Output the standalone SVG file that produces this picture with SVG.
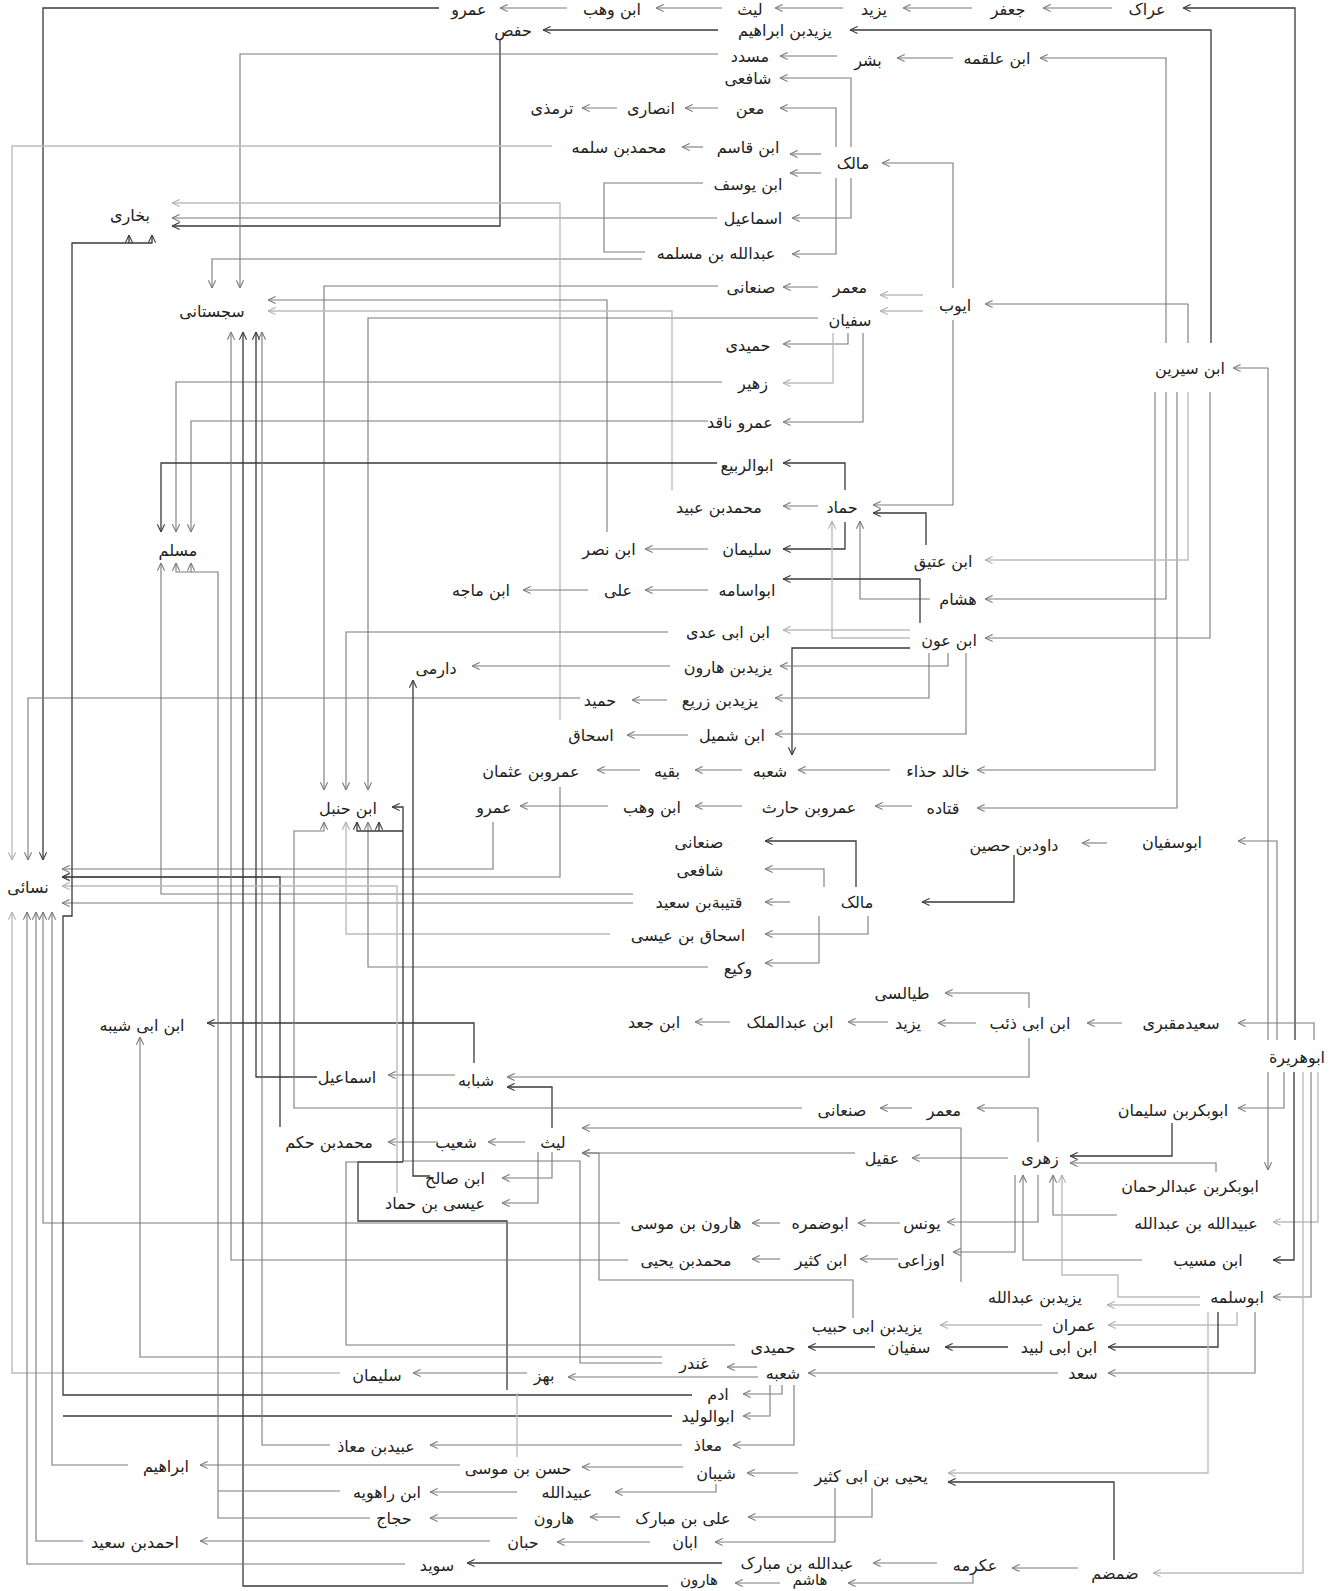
<svg xmlns="http://www.w3.org/2000/svg" width="1340" height="1591" viewBox="0 0 1340 1591">
<style>
.t{font-family:"DejaVu Sans",sans-serif;font-size:16px;fill:#222;text-anchor:middle;dominant-baseline:central}
.s{font-size:15px}
.d{fill:none;stroke:#3a3a3a;stroke-width:1.3}
.m{fill:none;stroke:#7a7a7a;stroke-width:1.1}
.l{fill:none;stroke:#bdbdbd;stroke-width:1.4}
.d.a{marker-end:url(#ad)}
.m.a{marker-end:url(#am)}
.l.a{marker-end:url(#al)}
</style>
<defs>
<marker id="ad" viewBox="0 0 10 10" refX="9.5" refY="5" markerWidth="9" markerHeight="9" orient="auto" markerUnits="userSpaceOnUse"><path d="M1,1 L9.5,5 L1,9" fill="none" stroke="#3a3a3a" stroke-width="1.2"/></marker>
<marker id="am" viewBox="0 0 10 10" refX="9.5" refY="5" markerWidth="9" markerHeight="9" orient="auto" markerUnits="userSpaceOnUse"><path d="M1,1 L9.5,5 L1,9" fill="none" stroke="#7a7a7a" stroke-width="1.2"/></marker>
<marker id="al" viewBox="0 0 10 10" refX="9.5" refY="5" markerWidth="9" markerHeight="9" orient="auto" markerUnits="userSpaceOnUse"><path d="M1,1 L9.5,5 L1,9" fill="none" stroke="#b0b0b0" stroke-width="1.2"/></marker>
</defs>
<rect width="1340" height="1591" fill="#fff"/>
<g id="connectors">
<path class="d a" d="M1295,1040 V8 H1183"/>
<path class="m a" d="M1112,8 H1043"/>
<path class="m a" d="M972,8 H903"/>
<path class="m a" d="M843,8 H775"/>
<path class="m a" d="M722,8 H656"/>
<path class="m a" d="M567,8 H500"/>
<path class="d a" d="M439,8 H43 V860"/>
<path class="d a" d="M1211,343 V30 H850"/>
<path class="d a" d="M718,30 H543"/>
<path class="d a" d="M500,40 V226 H172"/>
<path class="m a" d="M1166,343 V58 H1040"/>
<path class="m a" d="M953,58 H897"/>
<path class="m a" d="M837,56 H780"/>
<path class="m a" d="M718,54 H240 V288"/>
<path class="m a" d="M851,147 V78 H780"/>
<path class="m a" d="M836,147 V108 H780"/>
<path class="m a" d="M718,108 H685"/>
<path class="m a" d="M617,108 H582"/>
<path class="m a" d="M703,147 H682"/>
<path class="l a" d="M552,146 H12 V860"/>
<path class="m a" d="M821,154 H790"/>
<path class="m a" d="M821,173 H790"/>
<path class="m a" d="M953,288 V163 H882"/>
<path class="m a" d="M851,178 V218 H792"/>
<path class="m a" d="M836,178 V254 H792"/>
<path class="m a" d="M717,218 H172"/>
<path class="m" d="M703,183 H604 V252 H645"/>
<path class="m a" d="M642,259 H212 V288"/>
<path class="l a" d="M560,720 V203 H172"/>
<path class="l a" d="M923,295 H880"/>
<path class="l a" d="M923,311 H880"/>
<path class="m a" d="M818,287 H783"/>
<path class="m a" d="M718,286 H324 V790"/>
<path class="m a" d="M818,318 H368 V790"/>
<path class="m a" d="M607,532 V300 H268"/>
<path class="l a" d="M672,490 V311 H268"/>
<path class="m a" d="M848,333 V344 H783"/>
<path class="l a" d="M833,333 V383 H783"/>
<path class="m a" d="M863,333 V422 H783"/>
<path class="m a" d="M722,382 H176 V532"/>
<path class="m a" d="M708,421 H191 V532"/>
<path class="d a" d="M717,463 H161 V532"/>
<path class="d a" d="M845,490 V463 H783"/>
<path class="m a" d="M818,506 H783"/>
<path class="d a" d="M845,522 V549 H783"/>
<path class="m a" d="M953,320 V505 H873"/>
<path class="d a" d="M926,545 V513 H873"/>
<path class="m a" d="M930,599 H860 V521"/>
<path class="d a" d="M920,623 V579 H783"/>
<path class="l a" d="M910,630 H783"/>
<path class="l a" d="M910,638 H832 V521"/>
<path class="d a" d="M910,648 H792 V755"/>
<path class="m a" d="M948,653 V666 H780"/>
<path class="m a" d="M929,653 V698 H775"/>
<path class="m a" d="M966,653 V734 H775"/>
<path class="m a" d="M1188,343 V304 H985"/>
<path class="m a" d="M1155,392 V770 H977"/>
<path class="m a" d="M1166,392 V599 H985"/>
<path class="m a" d="M1177,392 V808 H977"/>
<path class="l a" d="M1188,392 V560 H985"/>
<path class="m a" d="M1210,392 V638 H985"/>
<path class="m a" d="M1268,1040 V368 H1233"/>
<path class="m a" d="M890,770 H798"/>
<path class="m a" d="M742,770 H695"/>
<path class="m a" d="M640,770 H597"/>
<path class="m a" d="M560,787 V877 H62"/>
<path class="m a" d="M688,735 H627"/>
<path class="m a" d="M667,700 H632"/>
<path class="m a" d="M580,698 H28 V860"/>
<path class="m a" d="M670,666 H472"/>
<path class="m a" d="M668,632 H346 V790"/>
<path class="m a" d="M708,590 H645"/>
<path class="m a" d="M588,590 H523"/>
<path class="m a" d="M708,549 H645"/>
<path class="m a" d="M742,806 H695"/>
<path class="m a" d="M912,806 H875"/>
<path class="m a" d="M608,806 H520"/>
<path class="m a" d="M493,822 V869 H62"/>
<path class="m a" d="M633,894 H161 V563"/>
<path class="m a" d="M633,903 H62"/>
<path class="l a" d="M610,934 H346 V822"/>
<path class="m a" d="M708,967 H368 V822"/>
<path class="m a" d="M1107,843 H1082"/>
<path class="d a" d="M1014,855 V902 H922"/>
<path class="d a" d="M856,887 V841 H765"/>
<path class="m a" d="M824,887 V869 H765"/>
<path class="m a" d="M790,902 H765"/>
<path class="m a" d="M868,916 V934 H765"/>
<path class="m a" d="M819,916 V963 H765"/>
<path class="m a" d="M1277,1040 V841 H1238"/>
<path class="m a" d="M1314,1040 V1023 H1238"/>
<path class="m a" d="M1122,1023 H1087"/>
<path class="m a" d="M976,1023 H938"/>
<path class="m a" d="M888,1022 H848"/>
<path class="m a" d="M730,1022 H695"/>
<path class="m a" d="M1029,1008 V993 H945"/>
<path class="m a" d="M1029,1038 V1077 H507"/>
<path class="d a" d="M552,1128 V1087 H507"/>
<path class="d a" d="M474,1063 V1023 H207"/>
<path class="m a" d="M455,1075 H388"/>
<path class="d a" d="M317,1077 H256 V332"/>
<path class="m a" d="M1284,1072 V1108 H1238"/>
<path class="m a" d="M1268,1072 V1170"/>
<path class="d a" d="M1172,1123 V1156 H1070"/>
<path class="m a" d="M1216,1172 V1163 H1070"/>
<path class="m a" d="M1038,1142 V1108 H977"/>
<path class="m a" d="M912,1108 H880"/>
<path class="m a" d="M802,1108 H294 V831 H324 V822"/>
<path class="m a" d="M1008,1158 H912"/>
<path class="m a" d="M855,1153 H582"/>
<path class="m a" d="M961,1282 V1128 H582"/>
<path class="m a" d="M525,1142 H488"/>
<path class="m a" d="M438,1142 H388"/>
<path class="d a" d="M280,1127 V877 H62"/>
<path class="m a" d="M552,1152 V1178 H502"/>
<path class="m a" d="M538,1152 V1203 H502"/>
<path class="l a" d="M397,1193 V886 H62"/>
<path class="d a" d="M403,1162 V807 H392"/>
<path class="d a" d="M403,831 H357 V822"/>
<path class="d a" d="M379,831 V822"/>
<path class="d" d="M507,1390 V1221 H358 V1162 H403"/>
<path class="m" d="M662,1363 H580 V1161 H403"/>
<path class="m" d="M735,1345 H346 V1162 H358"/>
<path class="d a" d="M430,1176 H413 V680"/>
<path class="m a" d="M853,1318 V1280 H599 V1153 H582"/>
<path class="m a" d="M1038,1175 V1222 H947"/>
<path class="m a" d="M1015,1175 V1252 H953"/>
<path class="m a" d="M1142,1260 H1023 V1175"/>
<path class="m a" d="M1117,1215 H1053 V1175"/>
<path class="l a" d="M1200,1297 H1118 V1275 H1062 V1175"/>
<path class="l a" d="M1318,1072 V1222 H1273"/>
<path class="d a" d="M1294,1072 V1260 H1273"/>
<path class="m a" d="M1311,1072 V1297 H1273"/>
<path class="l a" d="M1303,1072 V1573 H1153"/>
<path class="m a" d="M780,1223 H752"/>
<path class="m a" d="M900,1223 H858"/>
<path class="m a" d="M620,1223 H43 V912"/>
<path class="m a" d="M780,1259 H752"/>
<path class="m a" d="M898,1259 H860"/>
<path class="m a" d="M628,1260 H231 V332"/>
<path class="d a" d="M875,1347 H808"/>
<path class="d a" d="M1008,1347 H945"/>
<path class="l a" d="M1042,1325 H940"/>
<path class="l a" d="M1237,1312 V1325 H1108"/>
<path class="d a" d="M1218,1312 V1347 H1108"/>
<path class="m a" d="M1255,1312 V1373 H1108"/>
<path class="l a" d="M1208,1312 V1473 H948"/>
<path class="l a" d="M1200,1305 H1107"/>
<path class="m a" d="M1058,1373 H808"/>
<path class="m a" d="M757,1367 H727"/>
<path class="m a" d="M758,1377 H568"/>
<path class="m a" d="M527,1373 H413"/>
<path class="l a" d="M340,1373 H12 V912"/>
<path class="m a" d="M662,1357 H140 V1037"/>
<path class="m a" d="M782,1385 V1394 H743"/>
<path class="m a" d="M770,1385 V1416 H743"/>
<path class="m a" d="M794,1385 V1445 H733"/>
<path class="d a" d="M692,1395 H63 V916 H72 V243 H129 V235"/>
<path class="d" d="M672,1416 H63"/>
<path class="d a" d="M129,243 H152 V235"/>
<path class="m a" d="M682,1445 H430"/>
<path class="m a" d="M330,1445 H262 V332"/>
<path class="l" d="M517,1457 V1393"/>
<path class="d a" d="M1114,1560 V1482 H948"/>
<path class="m a" d="M1078,1568 H1012"/>
<path class="m a" d="M937,1563 H873"/>
<path class="m a" d="M973,1574 V1583 H848"/>
<path class="m a" d="M780,1583 H735"/>
<path class="d a" d="M668,1586 H243 V332"/>
<path class="d a" d="M722,1563 H467"/>
<path class="m a" d="M405,1564 H27 V912"/>
<path class="m a" d="M798,1473 H747"/>
<path class="m a" d="M872,1488 V1517 H748"/>
<path class="m a" d="M835,1488 V1542 H715"/>
<path class="m a" d="M683,1467 H582"/>
<path class="m a" d="M716,1484 V1492 H615"/>
<path class="m a" d="M620,1517 H590"/>
<path class="m a" d="M650,1542 H557"/>
<path class="m a" d="M490,1541 H200"/>
<path class="m a" d="M83,1541 H36 V912"/>
<path class="m a" d="M517,1518 H430"/>
<path class="m a" d="M370,1518 H218 V572 H176 V563"/>
<path class="m a" d="M191,572 V563"/>
<path class="m a" d="M517,1492 H430"/>
<path class="m" d="M340,1491 H218"/>
<path class="m a" d="M460,1465 H200"/>
<path class="m a" d="M128,1465 H52 V912"/>
</g>
<g id="n1"><text class="t" x="469" y="9">عمرو</text></g>
<g id="n2"><text class="t" x="612" y="9">ابن وهب</text></g>
<g id="n3"><text class="t" x="750" y="9">لیث</text></g>
<g id="n4"><text class="t" x="874" y="9">یزید</text></g>
<g id="n5"><text class="t" x="1008" y="9">جعفر</text></g>
<g id="n6"><text class="t" x="1147" y="9">عراک</text></g>
<g id="n7"><text class="t" x="785" y="30">یزیدبن ابراهیم</text></g>
<g id="n8"><text class="t" x="513" y="30">حفص</text></g>
<g id="n9"><text class="t" x="750" y="56">مسدد</text></g>
<g id="n10"><text class="t" x="868" y="60">بشر</text></g>
<g id="n11"><text class="t" x="997" y="58">ابن علقمه</text></g>
<g id="n12"><text class="t" x="748" y="78">شافعی</text></g>
<g id="n13"><text class="t" x="750" y="108">معن</text></g>
<g id="n14"><text class="t" x="651" y="108">انصاری</text></g>
<g id="n15"><text class="t" x="552" y="108">ترمذی</text></g>
<g id="n16"><text class="t" x="748" y="147">ابن قاسم</text></g>
<g id="n17"><text class="t" x="619" y="147">محمدبن سلمه</text></g>
<g id="n18"><text class="t" x="853" y="163">مالک</text></g>
<g id="n19"><text class="t" x="748" y="184">ابن یوسف</text></g>
<g id="n20"><text class="t" x="753" y="218">اسماعیل</text></g>
<g id="n21"><text class="t" x="716" y="253">عبدالله بن مسلمه</text></g>
<g id="n22"><text class="t" x="751" y="287">صنعانی</text></g>
<g id="n23"><text class="t" x="850" y="287">معمر</text></g>
<g id="n24"><text class="t" x="850" y="320">سفیان</text></g>
<g id="n25"><text class="t" x="748" y="345">حمیدی</text></g>
<g id="n26"><text class="t" x="753" y="383">زهیر</text></g>
<g id="n27"><text class="t" x="955" y="305">ایوب</text></g>
<g id="n28"><text class="t" x="1190" y="368">ابن سیرین</text></g>
<g id="n29"><text class="t" x="130" y="215">بخاری</text></g>
<g id="n30"><text class="t" x="212" y="311">سجستانی</text></g>
<g id="n31"><text class="t" x="740" y="422">عمرو ناقد</text></g>
<g id="n32"><text class="t" x="747" y="465">ابوالربیع</text></g>
<g id="n33"><text class="t" x="719" y="507">محمدبن عبید</text></g>
<g id="n34"><text class="t" x="842" y="507">حماد</text></g>
<g id="n35"><text class="t" x="747" y="549">سلیمان</text></g>
<g id="n36"><text class="t" x="609" y="549">ابن نصر</text></g>
<g id="n37"><text class="t" x="178" y="550">مسلم</text></g>
<g id="n38"><text class="t" x="747" y="590">ابواسامه</text></g>
<g id="n39"><text class="t" x="618" y="590">علی</text></g>
<g id="n40"><text class="t" x="481" y="590">ابن ماجه</text></g>
<g id="n41"><text class="t" x="943" y="561">ابن عتیق</text></g>
<g id="n42"><text class="t" x="958" y="599">هشام</text></g>
<g id="n43"><text class="t" x="949" y="640">ابن عون</text></g>
<g id="n44"><text class="t" x="728" y="632">ابن ابی عدی</text></g>
<g id="n45"><text class="t" x="728" y="667">یزیدبن هارون</text></g>
<g id="n46"><text class="t" x="436" y="668">دارمی</text></g>
<g id="n47"><text class="t" x="720" y="700">یزیدبن زریع</text></g>
<g id="n48"><text class="t" x="600" y="700">حمید</text></g>
<g id="n49"><text class="t" x="732" y="735">ابن شمیل</text></g>
<g id="n50"><text class="t" x="591" y="735">اسحاق</text></g>
<g id="n51"><text class="t" x="770" y="771">شعبه</text></g>
<g id="n52"><text class="t" x="667" y="771">بقیه</text></g>
<g id="n53"><text class="t" x="531" y="771">عمروبن عثمان</text></g>
<g id="n54"><text class="t" x="938" y="771">خالد حذاء</text></g>
<g id="n55"><text class="t" x="348" y="808">ابن حنبل</text></g>
<g id="n56"><text class="t" x="494" y="807">عمرو</text></g>
<g id="n57"><text class="t" x="652" y="807">ابن وهب</text></g>
<g id="n58"><text class="t" x="809" y="807">عمروبن حارث</text></g>
<g id="n59"><text class="t" x="943" y="808">قتاده</text></g>
<g id="n60"><text class="t" x="699" y="842">صنعانی</text></g>
<g id="n61"><text class="t" x="1172" y="842">ابوسفیان</text></g>
<g id="n62"><text class="t" x="1014" y="845">داودبن حصین</text></g>
<g id="n63"><text class="t" x="700" y="870">شافعی</text></g>
<g id="n64"><text class="t" x="28" y="887">نسائی</text></g>
<g id="n65"><text class="t" x="699" y="902">قتیبةبن سعید</text></g>
<g id="n66"><text class="t" x="857" y="902">مالک</text></g>
<g id="n67"><text class="t" x="688" y="935">اسحاق بن عیسی</text></g>
<g id="n68"><text class="t" x="738" y="968">وکیع</text></g>
<g id="n69"><text class="t" x="902" y="993">طیالسی</text></g>
<g id="n70"><text class="t" x="142" y="1025">ابن ابی شیبه</text></g>
<g id="n71"><text class="t" x="654" y="1022">ابن جعد</text></g>
<g id="n72"><text class="t" x="790" y="1022">ابن عبدالملک</text></g>
<g id="n73"><text class="t" x="908" y="1023">یزید</text></g>
<g id="n74"><text class="t" x="1030" y="1023">ابن ابی ذئب</text></g>
<g id="n75"><text class="t" x="1181" y="1023">سعیدمقبری</text></g>
<g id="n76"><text class="t" x="1297" y="1057">ابوهریرة</text></g>
<g id="n77"><text class="t" x="347" y="1077">اسماعیل</text></g>
<g id="n78"><text class="t" x="476" y="1080">شبابه</text></g>
<g id="n79"><text class="t" x="842" y="1110">صنعانی</text></g>
<g id="n80"><text class="t" x="944" y="1110">معمر</text></g>
<g id="n81"><text class="t" x="1173" y="1110">ابوبکربن سلیمان</text></g>
<g id="n82"><text class="t" x="329" y="1142">محمدبن حکم</text></g>
<g id="n83"><text class="t" x="456" y="1142">شعیب</text></g>
<g id="n84"><text class="t" x="553" y="1142">لیث</text></g>
<g id="n85"><text class="t" x="882" y="1158">عقیل</text></g>
<g id="n86"><text class="t" x="1040" y="1158">زهری</text></g>
<g id="n87"><text class="t" x="455" y="1178">ابن صالح</text></g>
<g id="n88"><text class="t" x="1190" y="1186">ابوبکربن عبدالرحمان</text></g>
<g id="n89"><text class="t" x="435" y="1203">عیسی بن حماد</text></g>
<g id="n90"><text class="t" x="686" y="1223">هارون بن موسی</text></g>
<g id="n91"><text class="t" x="820" y="1223">ابوضمره</text></g>
<g id="n92"><text class="t" x="922" y="1223">یونس</text></g>
<g id="n93"><text class="t" x="1196" y="1223">عبیدالله بن عبدالله</text></g>
<g id="n94"><text class="t" x="686" y="1260">محمدبن یحیی</text></g>
<g id="n95"><text class="t" x="821" y="1260">ابن کثیر</text></g>
<g id="n96"><text class="t" x="921" y="1260">اوزاعی</text></g>
<g id="n97"><text class="t" x="1208" y="1260">ابن مسیب</text></g>
<g id="n98"><text class="t" x="1035" y="1297">یزیدبن عبدالله</text></g>
<g id="n99"><text class="t" x="1237" y="1297">ابوسلمه</text></g>
<g id="n100"><text class="t" x="867" y="1326">یزیدبن ابی حبیب</text></g>
<g id="n101"><text class="t" x="1074" y="1325">عمران</text></g>
<g id="n102"><text class="t" x="773" y="1347">حمیدی</text></g>
<g id="n103"><text class="t" x="909" y="1347">سفیان</text></g>
<g id="n104"><text class="t" x="1059" y="1347">ابن ابی لبید</text></g>
<g id="n105"><text class="t" x="694" y="1363">غندر</text></g>
<g id="n106"><text class="t" x="783" y="1373">شعبه</text></g>
<g id="n107"><text class="t" x="544" y="1375">بهز</text></g>
<g id="n108"><text class="t" x="377" y="1375">سلیمان</text></g>
<g id="n109"><text class="t" x="1083" y="1373">سعد</text></g>
<g id="n110"><text class="t" x="718" y="1394">ادم</text></g>
<g id="n111"><text class="t" x="708" y="1416">ابوالولید</text></g>
<g id="n112"><text class="t" x="708" y="1445">معاذ</text></g>
<g id="n113"><text class="t" x="376" y="1446">عبیدبن معاذ</text></g>
<g id="n114"><text class="t" x="166" y="1466">ابراهیم</text></g>
<g id="n115"><text class="t" x="518" y="1468">حسن بن موسی</text></g>
<g id="n116"><text class="t" x="716" y="1473">شیبان</text></g>
<g id="n117"><text class="t" x="871" y="1476">یحیی بن ابی کثیر</text></g>
<g id="n118"><text class="t" x="387" y="1492">ابن راهویه</text></g>
<g id="n119"><text class="t" x="567" y="1492">عبیدالله</text></g>
<g id="n120"><text class="t" x="394" y="1518">حجاج</text></g>
<g id="n121"><text class="t" x="554" y="1518">هارون</text></g>
<g id="n122"><text class="t" x="683" y="1518">علی بن مبارک</text></g>
<g id="n123"><text class="t" x="135" y="1542">احمدبن سعید</text></g>
<g id="n124"><text class="t" x="523" y="1542">حبان</text></g>
<g id="n125"><text class="t" x="685" y="1542">ابان</text></g>
<g id="n126"><text class="t" x="437" y="1565">سوید</text></g>
<g id="n127"><text class="t" x="797" y="1563">عبدالله بن مبارک</text></g>
<g id="n128"><text class="t" x="975" y="1565">عکرمه</text></g>
<g id="n129"><text class="t" x="1115" y="1573">ضمضم</text></g>
<g id="n130"><text class="t s" x="810" y="1580">هاشم</text></g>
<g id="n131"><text class="t s" x="699" y="1580">هارون</text></g>
</svg>
